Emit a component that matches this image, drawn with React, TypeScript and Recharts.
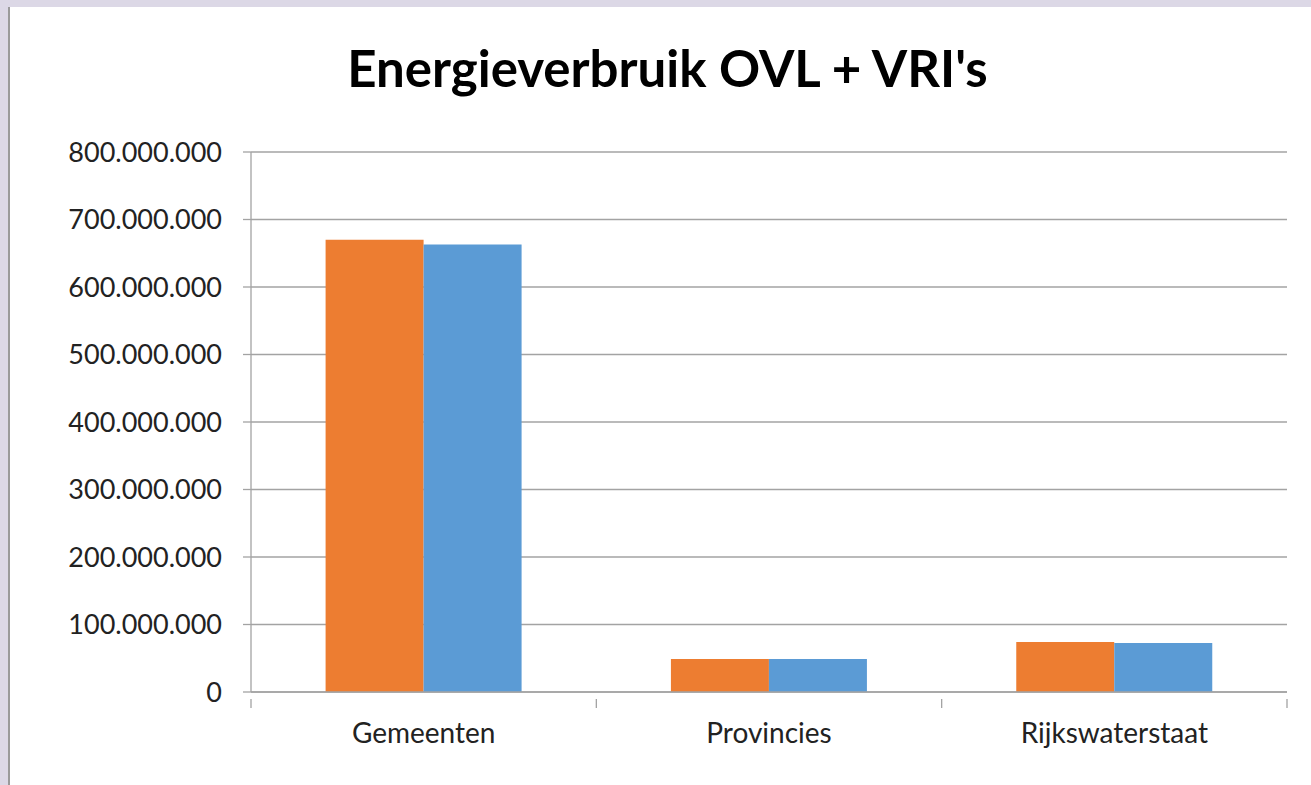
import { BarChart, Bar, XAxis, YAxis, CartesianGrid } from 'recharts';

const categories = ['Gemeenten', 'Provincies', 'Rijkswaterstaat'];
const seriesA = [670000000, 49000000, 74000000];
const seriesB = [663000000, 49000000, 72500000];
const yTicks = [0, 100000000, 200000000, 300000000, 400000000, 500000000, 600000000, 700000000, 800000000];

const data = categories.map((name, i) => ({ name, a: seriesA[i], b: seriesB[i] }));

const CHART_W = 1303;
const CHART_H = 778;
const MARGIN = { top: 145, right: 26, bottom: 0, left: 0 };
const Y_W = 241;
const BAND = (CHART_W - MARGIN.right - Y_W) / categories.length;

const FONT = 'Lato, "Open Sans", sans-serif';
const GRID = '#a3a3a3';

const fmt = (v: number) => v.toLocaleString('de-DE');

function CategoryTick(props: any) {
  const { x, y, payload, index } = props;
  const left = x - BAND / 2;
  return (
    <g>
      <line x1={left} y1={y - 1} x2={left} y2={y + 8} stroke={GRID} strokeWidth={1.3} />
      {index === categories.length - 1 && (
        <line x1={x + BAND / 2} y1={y - 1} x2={x + BAND / 2} y2={y + 8} stroke={GRID} strokeWidth={1.3} />
      )}
      <text x={x} y={y + 43} textAnchor="middle" fill="#222" fontSize={28} fontFamily={FONT}>
        {payload.value}
      </text>
    </g>
  );
}

export default function App() {
  return (
    <div style={{ position: 'absolute', left: 0, top: 0, width: 1311, height: 785, background: '#dcd8e6', overflow: 'hidden' }}>
      <div style={{ position: 'absolute', left: 8, top: 7, width: CHART_W, height: CHART_H, background: '#fff', borderLeft: '2px solid #9a9a9a', boxSizing: 'border-box' }}>
        <div style={{ position: 'absolute', left: 0, top: 30, width: 1315, textAlign: 'center', fontFamily: FONT, fontWeight: 700, fontSize: 51, color: '#000' }}>
          Energieverbruik OVL + VRI's
        </div>
        <BarChart width={CHART_W} height={CHART_H} data={data} margin={MARGIN} barCategoryGap="21.6%" barGap={0}>
          <CartesianGrid vertical={false} stroke={GRID} strokeWidth={1.3} />
          <XAxis dataKey="name" height={CHART_H - 685} axisLine={{ stroke: GRID, strokeWidth: 1.3 }} tickLine={false} tick={<CategoryTick />} interval={0} />
          <YAxis
            width={Y_W}
            domain={[0, 800000000]}
            ticks={yTicks}
            tickFormatter={fmt}
            axisLine={{ stroke: GRID, strokeWidth: 1.3 }}
            tickLine={{ stroke: GRID, strokeWidth: 1.3 }}
            tickSize={8}
            tickMargin={21}
            tick={{ fill: '#222', fontSize: 27, fontFamily: FONT }}
          />
          <Bar dataKey="a" fill="#ED7D31" isAnimationActive={false} />
          <Bar dataKey="b" fill="#5B9BD5" isAnimationActive={false} />
        </BarChart>
      </div>
    </div>
  );
}
